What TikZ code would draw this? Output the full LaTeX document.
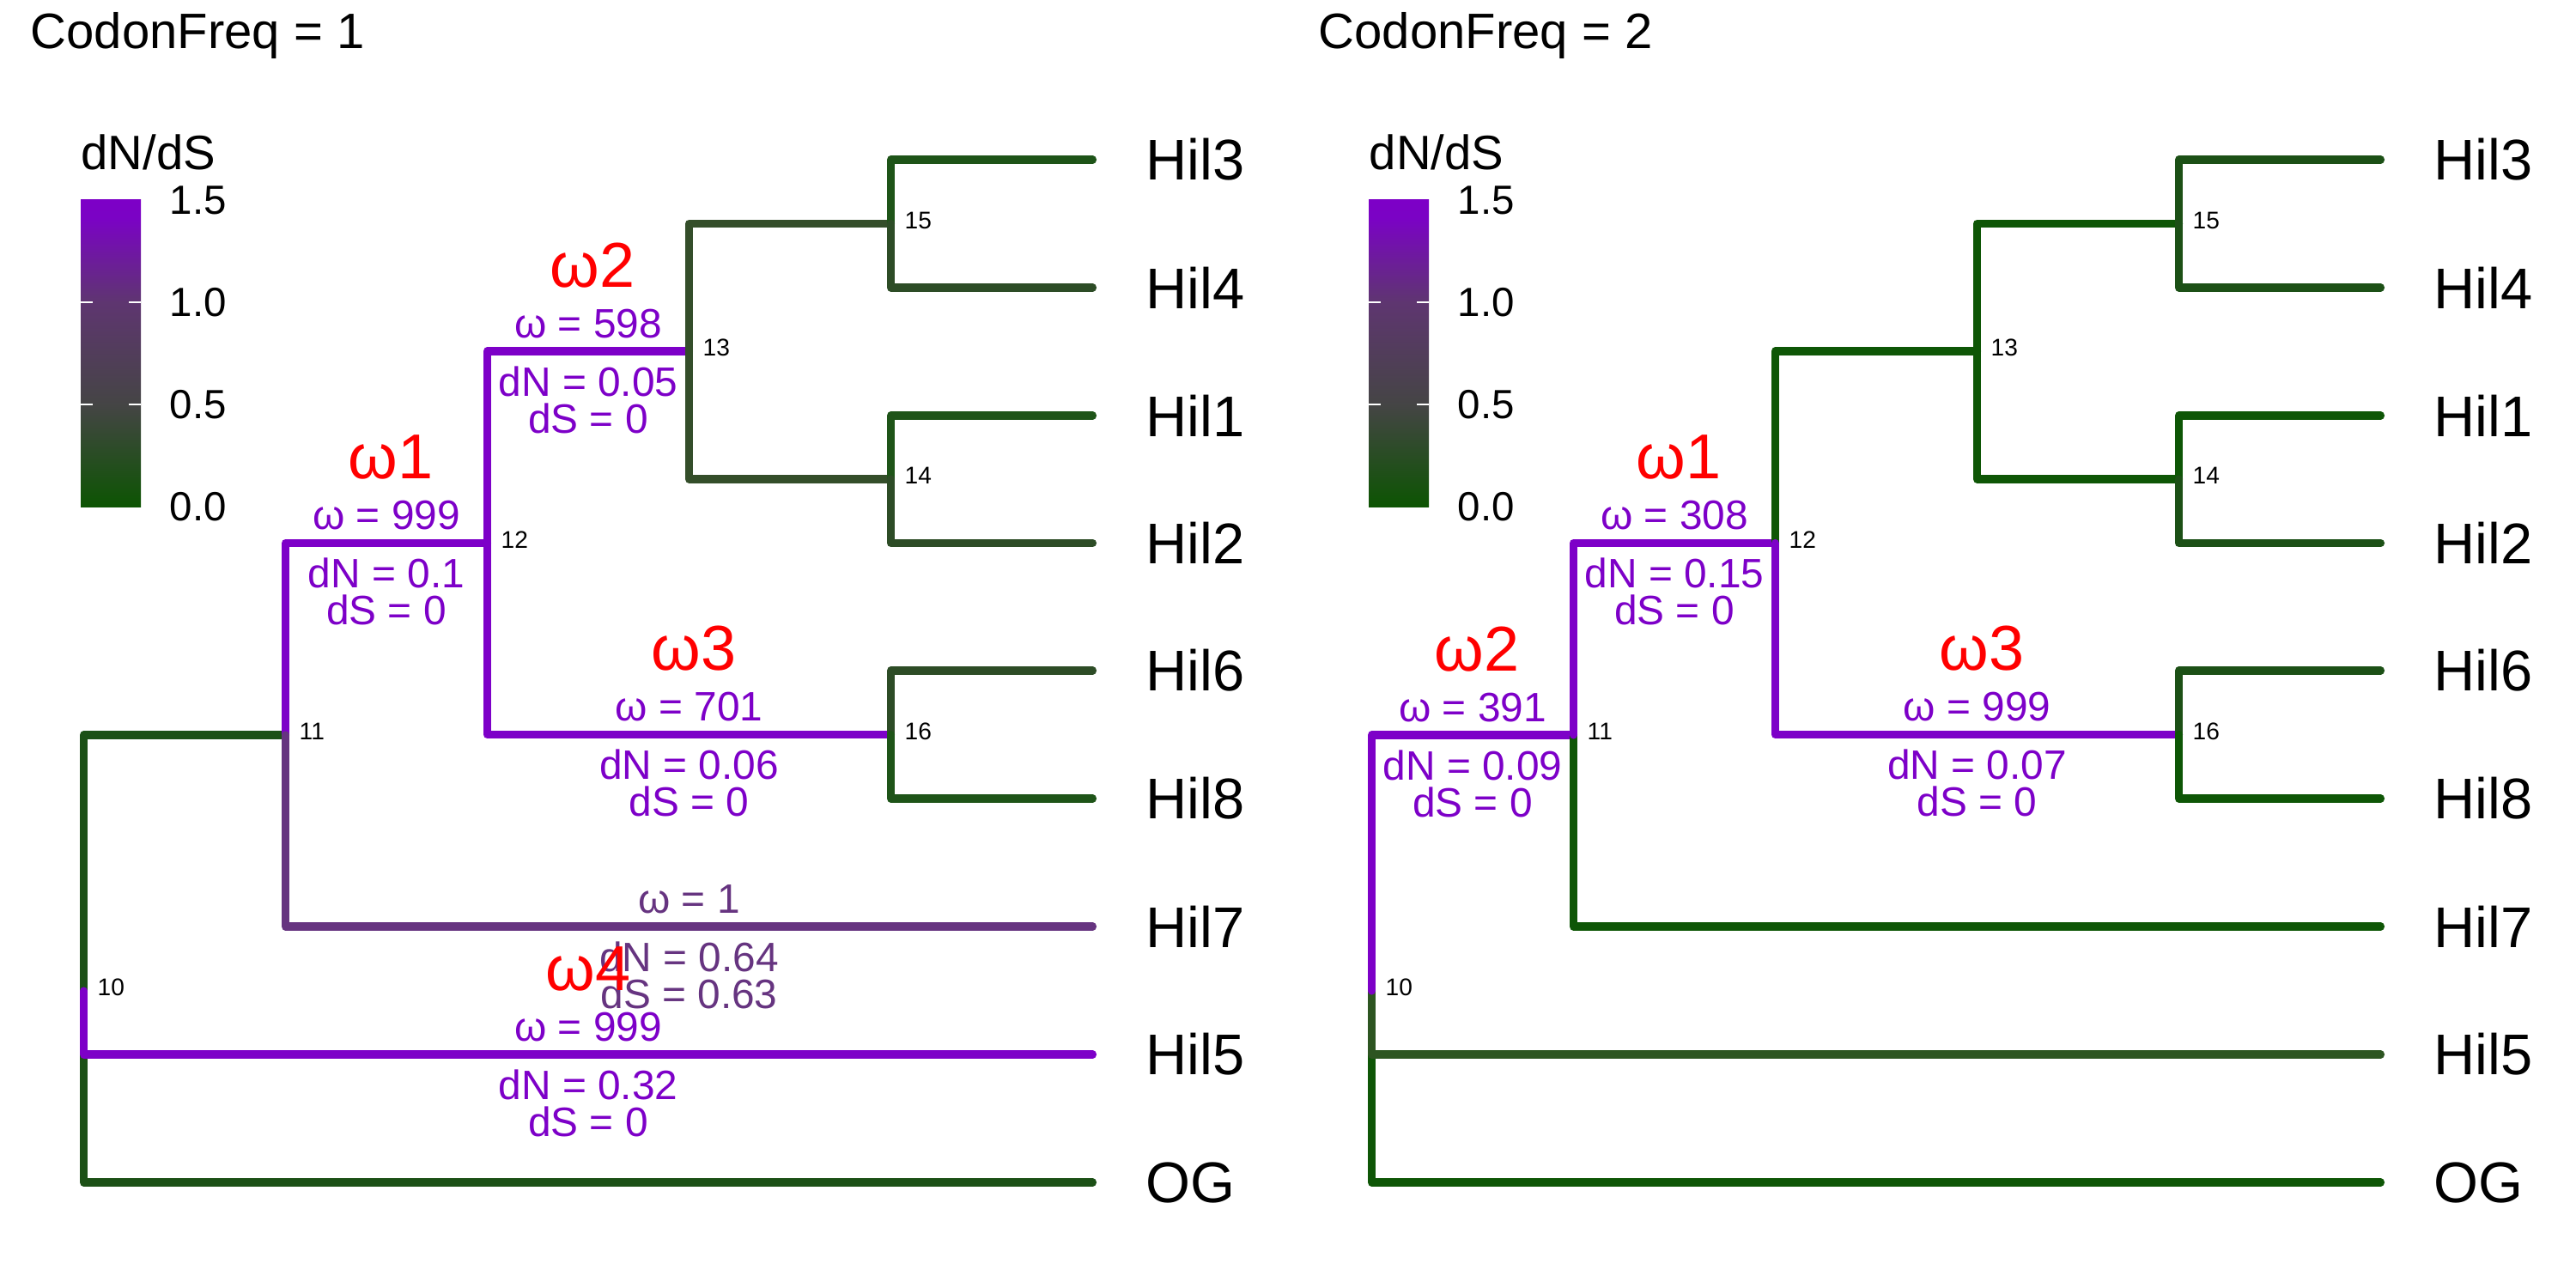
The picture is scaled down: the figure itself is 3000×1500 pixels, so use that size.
\documentclass[tikz,border=0pt]{standalone}
\usepackage{fontspec}
\setmainfont{Liberation Sans}
\usepackage{tikz}

\definecolor{hiw}{RGB}{125,0,200}
\definecolor{midw}{RGB}{102,52,128}
\definecolor{lowg}{RGB}{28,80,22}
\definecolor{greyg}{RGB}{52,78,42}
\definecolor{tipg}{RGB}{30,84,24}
\definecolor{tipgg}{RGB}{45,76,38}
\definecolor{deepg}{RGB}{14,86,6}
\definecolor{paleg}{RGB}{45,85,33}

\pgfdeclareverticalshading{dnds}{100bp}{rgb(0bp)=(0.05,0.33,0.01); rgb(25bp)=(0.05,0.33,0.01); rgb(41.67bp)=(0.27,0.27,0.27); rgb(58.33bp)=(0.37,0.21,0.44); rgb(72bp)=(0.48,0.01,0.77); rgb(75bp)=(0.49,0,0.78); rgb(100bp)=(0.49,0,0.78)}

\begin{document}
\begin{tikzpicture}[x=0.01cm, y=-0.01cm,
  branch/.style={line width=2.6pt, line cap=round, line join=round},
  tiplab/.style={anchor=west, inner sep=0pt, font=\fontsize{19}{21}\selectfont},
  nodelab/.style={anchor=west, inner sep=0pt, font=\fontsize{8}{9}\selectfont},
  omval/.style={inner sep=0pt, align=center, font=\fontsize{13.6}{12.2}\selectfont},
  omred/.style={inner sep=0pt, text=red, font=\fontsize{21}{24}\selectfont},
  paneltitle/.style={anchor=west, inner sep=0pt, font=\fontsize{16.5}{18}\selectfont},
  legtitle/.style={anchor=west, inner sep=0pt, font=\fontsize{16}{18}\selectfont},
  ticklab/.style={anchor=west, inner sep=0pt, font=\fontsize{13.5}{15}\selectfont},
  barmark/.style={white, line width=0.6pt}]

  \useasboundingbox (0,0) rectangle (3000,1500);

  % CodonFreq = 1
  \begin{scope}[shift={(0,0)}]
    \node[paneltitle] (Ltitle) at (35,42) {CodonFreq = 1};
    \node[legtitle] (Llegend) at (94,177) {dN/dS};
    \shade[shading=dnds] (94,233) rectangle (164,590);
    \draw[barmark] (94,352) -- (108,352) (150,352) -- (164,352);
    \draw[barmark] (94,471) -- (108,471) (150,471) -- (164,471);
    \node[ticklab] (Lt15) at (197,233) {1.5};
    \node[ticklab] (Lt10) at (197,352) {1.0};
    \node[ticklab] (Lt05) at (197,471) {0.5};
    \node[ticklab] (Lt00) at (197,590) {0.0};

    \coordinate (L10) at (97.5,1154);
    \coordinate (L11) at (332.5,856);
    \coordinate (L12) at (567.5,632.5);
    \coordinate (L13) at (802.5,409);
    \coordinate (L14) at (1037.5,558);
    \coordinate (L15) at (1037.5,260.5);
    \coordinate (L16) at (1037.5,855.5);
    \coordinate (LeHil3) at (1272.5,186);
    \coordinate (LeHil4) at (1272.5,335);
    \coordinate (LeHil1) at (1272.5,484);
    \coordinate (LeHil2) at (1272.5,632.5);
    \coordinate (LeHil6) at (1272.5,781);
    \coordinate (LeHil8) at (1272.5,930);
    \coordinate (LeHil7) at (1272.5,1079);
    \coordinate (LeHil5) at (1272.5,1228);
    \coordinate (LeOG) at (1272.5,1377);

    \draw[branch, lowg] (L10) |- (L11);
    \draw[branch, lowg] (L10) |- (LeOG);
    \draw[branch, hiw] (L10) |- (LeHil5);
    \draw[branch, hiw] (L11) |- (L12);
    \draw[branch, midw] (L11) |- (LeHil7);
    \draw[branch, hiw] (L12) |- (L13);
    \draw[branch, hiw] (L12) |- (L16);
    \draw[branch, greyg] (L13) |- (L15);
    \draw[branch, greyg] (L13) |- (L14);
    \draw[branch, tipg] (L15) |- (LeHil3);
    \draw[branch, tipgg] (L15) |- (LeHil4);
    \draw[branch, tipg] (L14) |- (LeHil1);
    \draw[branch, tipgg] (L14) |- (LeHil2);
    \draw[branch, tipgg] (L16) |- (LeHil6);
    \draw[branch, tipg] (L16) |- (LeHil8);

    \node[nodelab] (Ln10) at (113,1150) {10};
    \node[nodelab] (Ln11) at (348,852) {11};
    \node[nodelab] (Ln12) at (583,629) {12};
    \node[nodelab] (Ln13) at (818,405) {13};
    \node[nodelab] (Ln14) at (1053,554) {14};
    \node[nodelab] (Ln15) at (1053,257) {15};
    \node[nodelab] (Ln16) at (1053,852) {16};

    \node[tiplab] (LHil3) at (1334,186) {Hil3};
    \node[tiplab] (LHil4) at (1334,335) {Hil4};
    \node[tiplab] (LHil1) at (1334,484) {Hil1};
    \node[tiplab] (LHil2) at (1334,632.5) {Hil2};
    \node[tiplab] (LHil6) at (1334,781) {Hil6};
    \node[tiplab] (LHil8) at (1334,930) {Hil8};
    \node[tiplab] (LHil7) at (1334,1079) {Hil7};
    \node[tiplab] (LHil5) at (1334,1228) {Hil5};
    \node[tiplab] (LOG) at (1334,1377) {OG};

    \node[omval, text=hiw] (Lw2v) at (685,377) {ω = 598};
    \node[omval, text=hiw] (Lw2d) at (685,466) {dN = 0.05\\dS = 0};
    \node[omval, text=hiw] (Lw1v) at (450,600) {ω = 999};
    \node[omval, text=hiw] (Lw1d) at (450,689) {dN = 0.1\\dS = 0};
    \node[omval, text=hiw] (Lw3v) at (802.5,823) {ω = 701};
    \node[omval, text=hiw] (Lw3d) at (802.5,912) {dN = 0.06\\dS = 0};
    \node[omval, text=midw] (Lh7v) at (802.5,1047) {ω = 1};
    \node[omval, text=midw] (Lh7d) at (802.5,1136) {dN = 0.64\\dS = 0.63};
    \node[omval, text=hiw] (Lw4v) at (685,1196) {ω = 999};
    \node[omval, text=hiw] (Lw4d) at (685,1285) {dN = 0.32\\dS = 0};

    \node[omred] (Lw2) at (690,309) {ω2};
    \node[omred] (Lw1) at (455,532) {ω1};
    \node[omred] (Lw3) at (808,755) {ω3};
    \node[omred] (Lw4) at (685,1128) {ω4};
  \end{scope}

  % CodonFreq = 2
  \begin{scope}[shift={(1500,0)}]
    \node[paneltitle] (Rtitle) at (35,42) {CodonFreq = 2};
    \node[legtitle] (Rlegend) at (94,177) {dN/dS};
    \shade[shading=dnds] (94,233) rectangle (164,590);
    \draw[barmark] (94,352) -- (108,352) (150,352) -- (164,352);
    \draw[barmark] (94,471) -- (108,471) (150,471) -- (164,471);
    \node[ticklab] (Rt15) at (197,233) {1.5};
    \node[ticklab] (Rt10) at (197,352) {1.0};
    \node[ticklab] (Rt05) at (197,471) {0.5};
    \node[ticklab] (Rt00) at (197,590) {0.0};

    \coordinate (R10) at (97.5,1154);
    \coordinate (R11) at (332.5,856);
    \coordinate (R12) at (567.5,632.5);
    \coordinate (R13) at (802.5,409);
    \coordinate (R14) at (1037.5,558);
    \coordinate (R15) at (1037.5,260.5);
    \coordinate (R16) at (1037.5,855.5);
    \coordinate (ReHil3) at (1272.5,186);
    \coordinate (ReHil4) at (1272.5,335);
    \coordinate (ReHil1) at (1272.5,484);
    \coordinate (ReHil2) at (1272.5,632.5);
    \coordinate (ReHil6) at (1272.5,781);
    \coordinate (ReHil8) at (1272.5,930);
    \coordinate (ReHil7) at (1272.5,1079);
    \coordinate (ReHil5) at (1272.5,1228);
    \coordinate (ReOG) at (1272.5,1377);

    \draw[branch, deepg] (R10) |- (ReOG);
    \draw[branch, paleg] (R10) |- (ReHil5);
    \draw[branch, hiw] (R10) |- (R11);
    \draw[branch, deepg] (R11) |- (ReHil7);
    \draw[branch, hiw] (R11) |- (R12);
    \draw[branch, deepg] (R12) |- (R13);
    \draw[branch, hiw] (R12) |- (R16);
    \draw[branch, deepg] (R13) |- (R15);
    \draw[branch, deepg] (R13) |- (R14);
    \draw[branch, lowg] (R15) |- (ReHil3);
    \draw[branch, lowg] (R15) |- (ReHil4);
    \draw[branch, deepg] (R14) |- (ReHil1);
    \draw[branch, lowg] (R14) |- (ReHil2);
    \draw[branch, lowg] (R16) |- (ReHil6);
    \draw[branch, deepg] (R16) |- (ReHil8);

    \node[nodelab] (Rn10) at (113,1150) {10};
    \node[nodelab] (Rn11) at (348,852) {11};
    \node[nodelab] (Rn12) at (583,629) {12};
    \node[nodelab] (Rn13) at (818,405) {13};
    \node[nodelab] (Rn14) at (1053,554) {14};
    \node[nodelab] (Rn15) at (1053,257) {15};
    \node[nodelab] (Rn16) at (1053,852) {16};

    \node[tiplab] (RHil3) at (1334,186) {Hil3};
    \node[tiplab] (RHil4) at (1334,335) {Hil4};
    \node[tiplab] (RHil1) at (1334,484) {Hil1};
    \node[tiplab] (RHil2) at (1334,632.5) {Hil2};
    \node[tiplab] (RHil6) at (1334,781) {Hil6};
    \node[tiplab] (RHil8) at (1334,930) {Hil8};
    \node[tiplab] (RHil7) at (1334,1079) {Hil7};
    \node[tiplab] (RHil5) at (1334,1228) {Hil5};
    \node[tiplab] (ROG) at (1334,1377) {OG};

    \node[omval, text=hiw] (Rw1v) at (450,600) {ω = 308};
    \node[omval, text=hiw] (Rw1d) at (450,689) {dN = 0.15\\dS = 0};
    \node[omval, text=hiw] (Rw2v) at (215,824) {ω = 391};
    \node[omval, text=hiw] (Rw2d) at (215,913) {dN = 0.09\\dS = 0};
    \node[omval, text=hiw] (Rw3v) at (802.5,823) {ω = 999};
    \node[omval, text=hiw] (Rw3d) at (802.5,912) {dN = 0.07\\dS = 0};

    \node[omred] (Rw1) at (455,532) {ω1};
    \node[omred] (Rw2) at (220,756) {ω2};
    \node[omred] (Rw3) at (808,755) {ω3};
  \end{scope}

\end{tikzpicture}
\end{document}
